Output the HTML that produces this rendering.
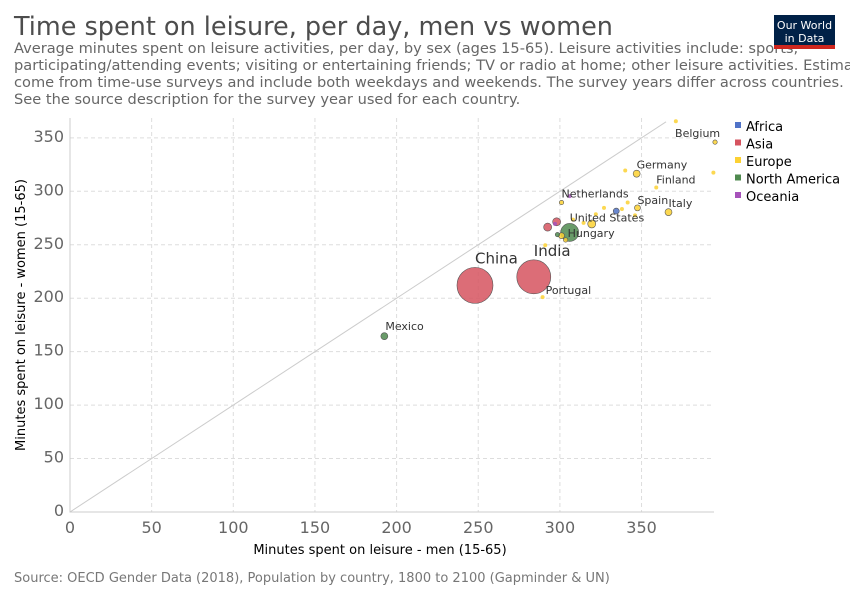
<!DOCTYPE html>
<html><head><meta charset="utf-8"><style>
body{margin:0;background:#fff;font-family:"DejaVu Sans","Liberation Sans",sans-serif;overflow:hidden}
</style></head><body>
<svg width="850" height="600" xmlns="http://www.w3.org/2000/svg" font-family="DejaVu Sans, Liberation Sans, sans-serif">
<text x="14" y="35" font-size="25.5" fill="#4d4d4d">Time spent on leisure, per day, men vs women</text>
<g font-size="14.6" fill="#666">
<text x="14" y="53">Average minutes spent on leisure activities, per day, by sex (ages 15-65). Leisure activities include: sports,</text>
<text x="14" y="70">participating/attending events; visiting or entertaining friends; TV or radio at home; other leisure activities. Estimates</text>
<text x="14" y="87">come from time-use surveys and include both weekdays and weekends. The survey years differ across countries.</text>
<text x="14" y="104">See the source description for the survey year used for each country.</text>
</g>
<g><rect x="774" y="15" width="61" height="32" fill="#002147"/><rect x="774" y="45" width="61" height="4" fill="#ce261e"/>
<text x="804.5" y="29" font-size="11" fill="#fff" text-anchor="middle">Our World</text><text x="804.5" y="42" font-size="11" fill="#fff" text-anchor="middle">in Data</text></g>
<g id="grid"></g><g id="axes"></g><g id="marks"></g>
<g id="legend"></g>
<text x="380" y="554" font-size="13" fill="#000" text-anchor="middle">Minutes spent on leisure - men (15-65)</text>
<text transform="translate(25,315) rotate(-90)" font-size="13" fill="#000" text-anchor="middle">Minutes spent on leisure - women (15-65)</text>
<text x="14" y="582" font-size="13" fill="#777">Source: OECD Gender Data (2018), Population by country, 1800 to 2100 (Gapminder &amp; UN)</text>
</svg>
<script>
const ticks=[0,50,100,150,200,250,300,350];
const regions=["Africa","Asia","Europe","North America","Oceania"];
const regionColors=["#5073c8","#d6535f","#fcd133","#4f8a4f","#a652ba"];
const names=["China","India","Mexico","Portugal","Hungary","United States","Netherlands","Spain","Italy","Finland","Germany","Belgium","","","","","","","","","","","","","","","",""];
const menVals=[248,284,192.5,289.4,303.5,306,301,347.5,366.5,359,347,395,371,340,394,306,341.5,334.5,327,338,322,346,308,319.5,314.5,298,297,292.5,298.5,301,291];
const womenVals=[212,220,164.5,201,254.5,261.5,289.5,284.5,280.5,303.5,316.5,346,365.5,319.5,317.5,295.5,289.5,281.5,284.5,283.5,278.5,277.5,273.5,269.5,270.5,271.5,269.5,266.5,259.5,258.5,249.5];
const regionIdx=[1,1,3,2,2,3,2,2,2,2,2,2,2,2,2,4,2,0,2,2,2,2,2,2,2,1,4,1,3,2,2];
const sizes=[18,17,3.5,2,2.2,9,2.2,3,3.5,2,3.5,2.2,2,2,2,2,2,3,2,2,2,2,2,4,2,4,2,4,2.2,3,2];
const NS="http://www.w3.org/2000/svg";
const X=v=>70+v*1.633, Y=v=>512-v*1.069;
function el(t,a,p){const e=document.createElementNS(NS,t);for(const k in a)e.setAttribute(k,a[k]);document.getElementById(p).appendChild(e);return e;}
ticks.forEach(t=>{
 if(t>0){let g=el('line',{x1:X(t),x2:X(t),y1:118,y2:512,stroke:'#ddd','stroke-dasharray':'4,3'},'grid');
 
 
 let h=el('line',{x1:70,x2:714,y1:Y(t),y2:Y(t),stroke:'#ddd','stroke-dasharray':'4,3'},'grid');
 
 }
 let a=el('text',{x:X(t),y:533,'font-size':16,fill:'#666','text-anchor':'middle'},'axes');a.textContent=t;
 
 
 let b=el('text',{x:64,y:Y(t)+4,'font-size':16,fill:'#666','text-anchor':'end'},'axes');b.textContent=t;
 
 
});
let ax=el('path',{d:'M70 118V512H714',stroke:'#ccc',fill:'none'},'axes');


let dl=el('line',{x1:X(0),y1:Y(0),x2:X(365),y2:Y(365),stroke:'#ccc'},'axes');


const order=menVals.map((_,i)=>i).sort((a,b)=>sizes[b]-sizes[a]);
order.forEach(i=>{
 let c=el('circle',{cx:X(menVals[i]),cy:Y(womenVals[i]),r:sizes[i],fill:regionColors[regionIdx[i]],'fill-opacity':0.85,stroke:sizes[i]>2.1?'#555':'none','stroke-width':0.6},'marks');
 
 
});
const labelOff={China:[0,-22,15],India:[0,-21,15],Mexico:[1,-6,11],Portugal:[3,-3,11],Hungary:[2,-3,11],"United States":[0,-11,11],Netherlands:[0,-5,11],Spain:[0,-4,11],Italy:[0,-5,11],Finland:[0,-4,11],Germany:[0,-5,11],Belgium:[-40,-5,11]};
names.forEach((n,i)=>{if(!n)return;const o=labelOff[n];
 let t=el('text',{x:X(menVals[i])+o[0],y:Y(womenVals[i])+o[1],'font-size':o[2],fill:'#333'},'marks');t.textContent=n;
 
 
});
regions.forEach((r,i)=>{
 let s=el('rect',{x:735,y:122+i*17.5,width:6,height:6,fill:regionColors[i]},'legend');
 
 
 let t=el('text',{x:746,y:131+i*17.5,'font-size':13,fill:'#000'},'legend');t.textContent=r;
 
 
});
</script>
</body></html>
